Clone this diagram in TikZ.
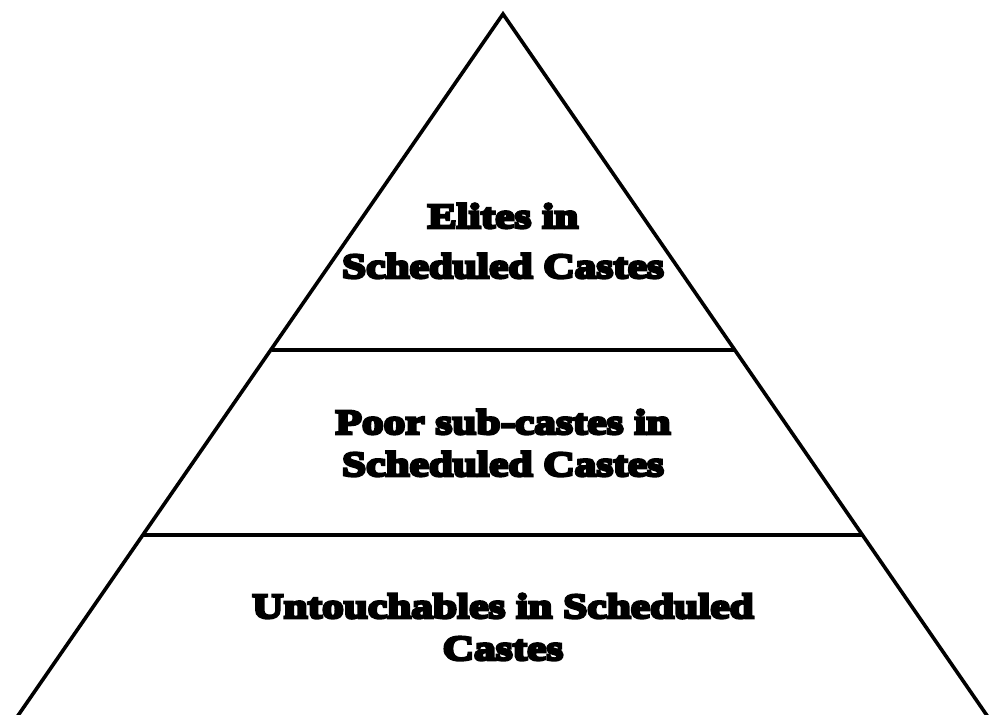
\documentclass[tikz,border=0pt]{standalone}
\usepackage{fontspec}
\usepackage{tikz}
\newfontfamily\tierfont[FakeBold=8,FakeStretch=1.24]{Liberation Serif Bold}

\begin{document}
\begin{tikzpicture}[x=1pt, y=-1pt, line width=3.6pt]%
  \tikzset{tier edge/.style={draw,black,line cap=butt,line join=miter}}
  \tikzstyle{every node}=[draw=none, text=black, align=center, inner sep=0pt, font=\tierfont\fontsize{35}{42}\selectfont]

  \useasboundingbox (0,0) rectangle (989,715);

  \coordinate (apex) at (503,14);
  \coordinate (baseL) at (17,717);
  \coordinate (baseR) at (988,717);
  \coordinate (midL) at (272,350);
  \coordinate (midR) at (735,350);
  \coordinate (lowL) at (142,535);
  \coordinate (lowR) at (863,535);

  \path[tier edge] (baseL) -- (apex) -- (baseR);
  \path[tier edge] (midL) -- (midR);
  \path[tier edge] (lowL) -- (lowR);

  \node (elites) at (503,241) {Elites in\\[8pt]Scheduled Castes};
  \node (poor) at (503,443) {Poor sub-castes in\\Scheduled Castes};
  \node (untouch) at (503,627) {Untouchables in Scheduled\\Castes};
\end{tikzpicture}
\end{document}
